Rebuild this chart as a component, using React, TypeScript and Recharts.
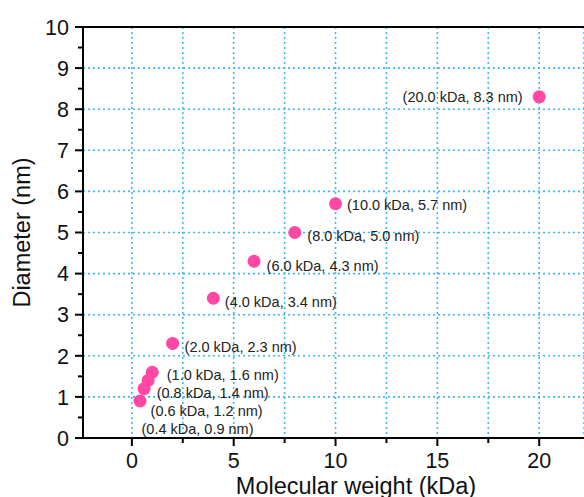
import { ScatterChart, Scatter, XAxis, YAxis, CartesianGrid, ReferenceLine, Label } from 'recharts';

// ── Données ─────────────────────────────────────────────
const MW = [0.4, 0.6, 0.8, 1.0, 2.0, 4.0, 6.0, 8.0, 10.0, 20.0]; // kDa
const DIAM = [0.9, 1.2, 1.4, 1.6, 2.3, 3.4, 4.3, 5.0, 5.7, 8.3]; // nm

const X_TICKS = [0, 2.5, 5, 7.5, 10, 12.5, 15, 17.5, 20];
const Y_TICKS = [0, 0.5, 1, 1.5, 2, 2.5, 3, 3.5, 4, 4.5, 5, 5.5, 6, 6.5, 7, 7.5, 8, 8.5, 9, 9.5, 10];
const Y_GRID = [1, 2, 3, 4, 5, 6, 7, 8, 9];

// décalage des étiquettes (px) : [dx, dy, ancre]
const LABEL_OFFSETS: [number, number, 'start' | 'end'][] = [
  [1.5, 28, 'start'],
  [6.5, 22, 'start'],
  [8.5, 12, 'start'],
  [14.5, 3, 'start'],
  [12, 3.5, 'start'],
  [11.5, 3.5, 'start'],
  [12.5, 4.5, 'start'],
  [12.5, 3, 'start'],
  [11.5, 1, 'start'],
  [-16.5, 0, 'end'],
];

const COLORS = {
  point: '#ff47a3',
  grid: '#3db8f5',
  axis: '#000',
  label: '#222',
};

const FONT = '"Liberation Sans", Arial, sans-serif';

const data = MW.map((x, i) => ({ x, y: DIAM[i] }));

function XTick({ x, y, payload }: any) {
  const major = payload.value % 5 === 0;
  return (
    <g>
      <line x1={x} y1={y} x2={x} y2={y + (major ? 8 : 5)} stroke={COLORS.axis} strokeWidth={2} />
      {major && (
        <text x={x} y={y + 30} textAnchor="middle" fontSize={21.5} fontFamily={FONT} fill="#111">
          {payload.value}
        </text>
      )}
    </g>
  );
}

function YTick({ x, y, payload }: any) {
  const major = payload.value % 1 === 0;
  return (
    <g>
      <line x1={x - (major ? 8 : 5)} y1={y} x2={x} y2={y} stroke={COLORS.axis} strokeWidth={2} />
      {major && (
        <text x={x - 14} y={y} dy="0.36em" textAnchor="end" fontSize={21.5} fontFamily={FONT} fill="#111">
          {payload.value}
        </text>
      )}
    </g>
  );
}

function Dot({ cx, cy }: any) {
  return <circle cx={cx} cy={cy} r={6.5} fill={COLORS.point} />;
}

function PointLabel({ cx, cy, payload }: any) {
  const i = MW.indexOf(payload.x);
  const [dx, dy, anchor] = LABEL_OFFSETS[i] ?? [12, 3, 'start'];
  return (
    <text
      x={cx + dx}
      y={cy + dy}
      dy="0.35em"
      textAnchor={anchor}
      fontSize={14.5}
      fontFamily={FONT}
      fill={COLORS.label}
    >
      {`(${payload.x.toFixed(1)} kDa, ${payload.y.toFixed(1)} nm)`}
    </text>
  );
}

export default function App() {
  return (
    <div style={{ position: 'absolute', left: 0, top: 0, width: 584, height: 497, overflow: 'hidden', background: '#fff' }}>
      <ScatterChart width={584} height={497} margin={{ top: 27, right: 0, bottom: 0, left: 0 }}>
        <CartesianGrid
          horizontal={false}
          stroke={COLORS.grid}
          strokeWidth={1.6}
          strokeDasharray="2 3"
        />
        {Y_GRID.map((v) => (
          <ReferenceLine key={v} y={v} stroke={COLORS.grid} strokeWidth={1.6} strokeDasharray="2 3" />
        ))}
        <ReferenceLine y={10} stroke={COLORS.axis} strokeWidth={2} />
        <XAxis
          type="number"
          dataKey="x"
          domain={[-2.4, 22.2]}
          allowDataOverflow
          ticks={X_TICKS}
          interval={0}
          height={59}
          tickSize={0}
          tickMargin={0}
          tickLine={false}
          axisLine={{ stroke: COLORS.axis, strokeWidth: 2 }}
          tick={<XTick />}
        >
          <Label
            content={({ viewBox }: any) => (
              <text
                x={viewBox.x + viewBox.width / 2 + 22.5}
                y={viewBox.y + 56}
                textAnchor="middle"
                fontSize={23.5}
                fontFamily={FONT}
                fill="#111"
              >
                Molecular weight (kDa)
              </text>
            )}
          />
        </XAxis>
        <YAxis
          type="number"
          dataKey="y"
          domain={[0, 10]}
          ticks={Y_TICKS}
          interval={0}
          width={83}
          tickSize={0}
          tickMargin={0}
          tickLine={false}
          axisLine={{ stroke: COLORS.axis, strokeWidth: 2 }}
          tick={<YTick />}
        >
          <Label
            content={({ viewBox }: any) => {
              const cx = viewBox.x + 30;
              const cy = viewBox.y + viewBox.height / 2;
              return (
                <text
                  x={cx}
                  y={cy}
                  transform={`rotate(-90 ${cx} ${cy})`}
                  textAnchor="middle"
                  fontSize={23.5}
                  fontFamily={FONT}
                  fill="#111"
                >
                  Diameter (nm)
                </text>
              );
            }}
          />
        </YAxis>
        <Scatter data={data} shape={<Dot />} isAnimationActive={false} />
        <Scatter data={data} shape={<PointLabel />} isAnimationActive={false} />
      </ScatterChart>
    </div>
  );
}
